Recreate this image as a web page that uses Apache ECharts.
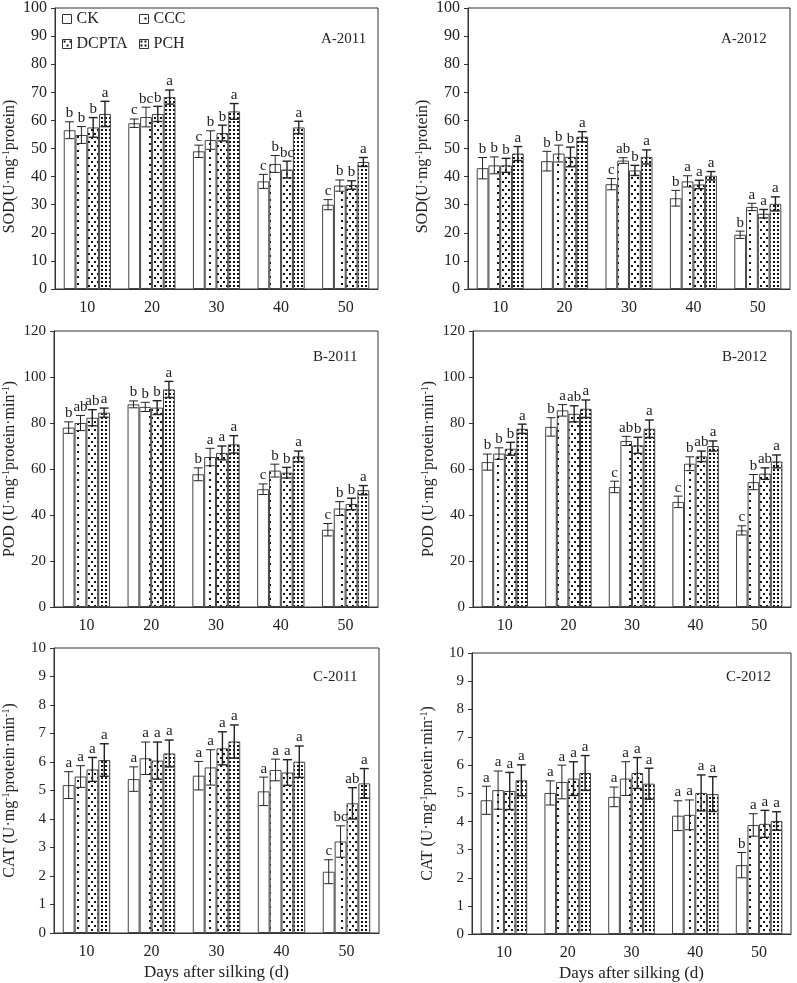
<!DOCTYPE html>
<html><head><meta charset="utf-8">
<script src="https://cdn.jsdelivr.net/npm/echarts@6/dist/echarts.min.js"></script>
<style>html,body{margin:0;padding:0;background:#fff}#c{width:797px;height:983px}</style>
</head><body><div id="c"></div><script>
const categories = ['10','20','30','40','50'];
const treatments = ['CK','CCC','DCPTA','PCH'];
const yTicksSOD = [0,100,10];
const yTicksPOD = [0,120,20];
const yTicksCAT = [0,10,1];

// SOD 2011  (order: CK, CCC, DCPTA, PCH)
const sod2011Values = [[56.5,59.0,49.0,38.3,30.0],[54.8,61.2,53.0,44.5,36.8],[57.5,62.3,55.5,42.5,37.0],[62.3,68.3,63.2,57.5,45.2]];
const sod2011Errors = [[3.0,1.5,2.2,2.5,1.8],[3.0,3.5,3.3,3.0,2.0],[3.5,2.7,2.8,3.0,1.5],[4.5,2.5,2.8,2.2,1.6]];
const sod2011Letters = [['b','c','c','c','c'],['b','bc','b','b','b'],['b','b','b','bc','b'],['a','a','a','a','a']];
// SOD 2012
const sod2012Values = [[43.0,45.5,37.3,32.3,19.3],[44.0,48.2,45.7,38.3,29.2],[44.0,47.0,42.2,37.2,26.8],[48.2,54.2,47.0,40.3,30.3]];
const sod2012Errors = [[3.8,3.5,2.0,2.8,1.3],[3.0,3.0,1.0,2.0,1.3],[2.5,3.5,1.8,1.5,1.5],[2.5,1.8,2.5,1.5,2.5]];
const sod2012Letters = [['b','b','c','b','b'],['b','b','ab','a','a'],['b','b','b','a','a'],['a','a','a','a','a']];
// POD 2011
const pod2011Values = [[78.0,88.1,57.7,51.2,33.6],[80.0,87.0,65.2,59.3,42.8],[82.3,86.7,67.0,58.4,44.8],[84.5,94.6,70.7,65.5,50.8]];
const pod2011Errors = [[2.5,1.5,2.8,2.3,2.7],[3.3,2.0,3.8,2.8,3.0],[3.5,3.0,3.0,2.3,2.5],[2.0,3.5,3.8,2.3,2.0]];
const pod2011Letters = [['b','b','b','c','c'],['ab','b','a','b','b'],['ab','b','a','b','b'],['a','a','a','a','a']];
// POD 2012
const pod2012Values = [[63.0,78.3,52.2,45.7,33.3],[66.7,85.5,72.2,62.3,54.3],[68.8,84.0,70.3,65.5,58.0],[77.5,86.2,77.5,70.0,63.3]];
const pod2012Errors = [[3.5,4.0,2.5,2.5,2.0],[2.5,2.5,2.0,3.0,3.3],[2.8,3.5,3.5,2.3,2.5],[2.0,3.8,3.8,2.2,2.8]];
const pod2012Letters = [['b','b','c','c','c'],['b','a','ab','b','b'],['b','ab','b','ab','ab'],['a','a','a','a','a']];
// CAT 2011
const cat2011Values = [[5.19,5.40,5.52,4.97,2.15],[5.49,6.13,5.81,5.72,3.21],[5.74,6.05,6.48,5.63,4.55],[6.07,6.30,6.72,6.01,5.25]];
const cat2011Errors = [[0.47,0.43,0.50,0.50,0.42],[0.38,0.57,0.62,0.38,0.55],[0.42,0.65,0.58,0.45,0.55],[0.57,0.47,0.58,0.55,0.52]];
const cat2011Letters = [['a','a','a','a','c'],['a','a','a','a','bc'],['a','a','a','a','ab'],['a','a','a','a','a']];
// CAT 2012
const cat2012Values = [[4.76,5.02,4.88,4.21,2.45],[5.12,5.41,5.53,4.24,3.88],[5.09,5.53,5.73,5.02,3.92],[5.47,5.73,5.35,4.98,4.02]];
const cat2012Errors = [[0.50,0.43,0.35,0.53,0.45],[0.68,0.60,0.60,0.53,0.40],[0.66,0.60,0.55,0.64,0.48],[0.55,0.62,0.55,0.62,0.33]];
const cat2012Letters = [['a','a','a','a','b'],['a','a','a','a','a'],['a','a','a','a','a'],['a','a','a','a','a']];

const FONT = '"Liberation Serif","Times New Roman",serif';
const GAP = 0.27;

function makePattern(w, h, dots, r) {
  const c = document.createElement('canvas');
  c.width = w; c.height = h;
  const ctx = c.getContext('2d');
  ctx.fillStyle = '#fff'; ctx.fillRect(0, 0, w, h);
  ctx.fillStyle = '#111';
  dots.forEach(d => ctx.fillRect(d[0], d[1], r, r));
  return c;
}
const fills = [
  '#ffffff',
  {image: makePattern(12, 7, [[5,3]], 2), repeat: 'repeat'},
  {image: makePattern(6, 8, [[1,1],[4,5]], 2), repeat: 'repeat'},
  {image: makePattern(4, 4, [[1,1]], 2), repeat: 'repeat'}
];

const panels = [
  {grid:{left:55,top:8,width:323,height:281}, ticks:yTicksSOD, vals:sod2011Values, errs:sod2011Errors, lets:sod2011Letters,
   name:'SOD(U·mg{s|-1}protein)', title:'A-2011', tpos:[316,27], fs:16, namePad:[0,36,0,0]},
  {grid:{left:468,top:8,width:322,height:281}, ticks:yTicksSOD, vals:sod2012Values, errs:sod2012Errors, lets:sod2012Letters,
   name:'SOD(U·mg{s|-1}protein)', title:'A-2012', tpos:[716,27], fs:16, namePad:[0,36,0,0]},
  {grid:{left:51,top:331,width:327,height:276}, ticks:yTicksPOD, vals:pod2011Values, errs:pod2011Errors, lets:pod2011Letters,
   name:'POD (U·mg{s|-1}protein·min{s|-1})', title:'B-2011', tpos:[308,345], fs:15, namePad:[0,0,0,0]},
  {grid:{left:473,top:331,width:318,height:276}, ticks:yTicksPOD, vals:pod2012Values, errs:pod2012Errors, lets:pod2012Letters,
   name:'POD (U·mg{s|-1}protein·min{s|-1})', title:'B-2012', tpos:[717,345], fs:15, namePad:[0,0,0,0]},
  {grid:{left:52,top:648,width:327,height:285}, ticks:yTicksCAT, vals:cat2011Values, errs:cat2011Errors, lets:cat2011Letters,
   name:'CAT (U·mg{s|-1}protein·min{s|-1})', title:'C-2011', tpos:[308,665], fs:15, namePad:[0,0,0,0], xname:true},
  {grid:{left:472,top:653,width:319,height:284}, ticks:yTicksCAT, vals:cat2012Values, errs:cat2012Errors, lets:cat2012Letters,
   name:'CAT (U·mg{s|-1}protein·min{s|-1})', title:'C-2012', tpos:[721,665], fs:15, namePad:[0,0,0,0], xname:true}
];

const grids = [], xAxes = [], yAxes = [], series = [], titles = [];
panels.forEach((p, gi) => {
  grids.push(Object.assign({show:true, borderColor:'#333', borderWidth:1, backgroundColor:'transparent'}, p.grid));
  xAxes.push({
    type:'category', gridIndex:gi, data:categories,
    name: p.xname ? 'Days after silking (d)' : '', nameLocation:'middle', nameGap:31,
    nameTextStyle:{fontFamily:FONT, fontSize:17, color:'#222'},
    axisLine:{lineStyle:{color:'#333'}},
    axisTick:{inside:true, length:5, lineStyle:{color:'#333'}},
    axisLabel:{fontFamily:FONT, fontSize:16, color:'#222', margin:11}
  });
  yAxes.push({
    type:'value', gridIndex:gi, min:p.ticks[0], max:p.ticks[1], interval:p.ticks[2],
    name:p.name, nameLocation:'middle', nameGap:35,
    nameTextStyle:{fontFamily:FONT, fontSize:16, color:'#222', lineHeight:18, padding:p.namePad,
      rich:{s:{fontFamily:FONT, fontSize:10, lineHeight:10, verticalAlign:'top', color:'#222'}}},
    splitLine:{show:false},
    axisLine:{show:true, lineStyle:{color:'#333'}},
    axisTick:{show:true, inside:false, length:4, lineStyle:{color:'#333'}},
    axisLabel:{fontFamily:FONT, fontSize:p.fs, color:'#222', margin:8}
  });
  titles.push({text:p.title, left:p.tpos[0], top:p.tpos[1],
    textStyle:{fontFamily:FONT, fontSize:15, fontWeight:'normal', color:'#222'}});
  treatments.forEach((t, si) => {
    series.push({
      type:'bar', name:t, xAxisIndex:gi, yAxisIndex:gi, data:p.vals[si],
      barGap:'0%', barCategoryGap:(GAP*100)+'%',
      itemStyle:{color:fills[si], borderColor:'#444', borderWidth:1},
      emphasis:{disabled:true}, animation:false
    });
  });
  const edata = [];
  treatments.forEach((t, si) => {
    p.vals[si].forEach((v, ci) => edata.push([ci, si, v, p.errs[si][ci]]));
  });
  const lets = p.lets;
  series.push({
    type:'custom', xAxisIndex:gi, yAxisIndex:gi, data:edata, z:10, clip:false, animation:false,
    silent:true,
    renderItem: function(params, api) {
      const ci = api.value(0), si = api.value(1), v = api.value(2), e = api.value(3);
      const catW = api.size([1, 0])[0];
      const bw = catW * (1 - GAP) / 4;
      const c = api.coord([ci, v]);
      const x = c[0] - catW * (1 - GAP) / 2 + bw * (si + 0.5);
      const yT = api.coord([ci, v + e])[1];
      const yB = api.coord([ci, v - e])[1];
      const cap = bw * 0.38;
      const style = {stroke: '#222', lineWidth: si >= 2 ? 1.4 : 1};
      return {type:'group', children:[
        {type:'line', shape:{x1:x, y1:yT, x2:x, y2:yB}, style:style},
        {type:'line', shape:{x1:x-cap, y1:yT, x2:x+cap, y2:yT}, style:style},
        {type:'line', shape:{x1:x-cap, y1:yB, x2:x+cap, y2:yB}, style:style},
        {type:'text', x:x, y:yT - 1, style:{text: lets[si][ci], fontFamily:FONT, fontSize:15,
          fill:'#222', align:'center', verticalAlign:'bottom'}}
      ]};
    }
  });
});

const legendCommon = {
  orient:'vertical', itemWidth:9, itemHeight:9, itemGap:9, icon:'rect',
  textStyle:{fontFamily:FONT, fontSize:16, color:'#222'},
  itemStyle:{borderColor:'#333', borderWidth:1}, selectedMode:false, padding:0
};

const chart = echarts.init(document.getElementById('c'), null, {renderer:'canvas'});
chart.setOption({
  backgroundColor:'#fff',
  animation:false,
  title: titles,
  legend: [
    Object.assign({left:62, top:11, data:['CK','DCPTA']}, legendCommon),
    Object.assign({left:139, top:11, data:['CCC','PCH']}, legendCommon)
  ],
  grid: grids, xAxis: xAxes, yAxis: yAxes, series: series
});
</script></body></html>
